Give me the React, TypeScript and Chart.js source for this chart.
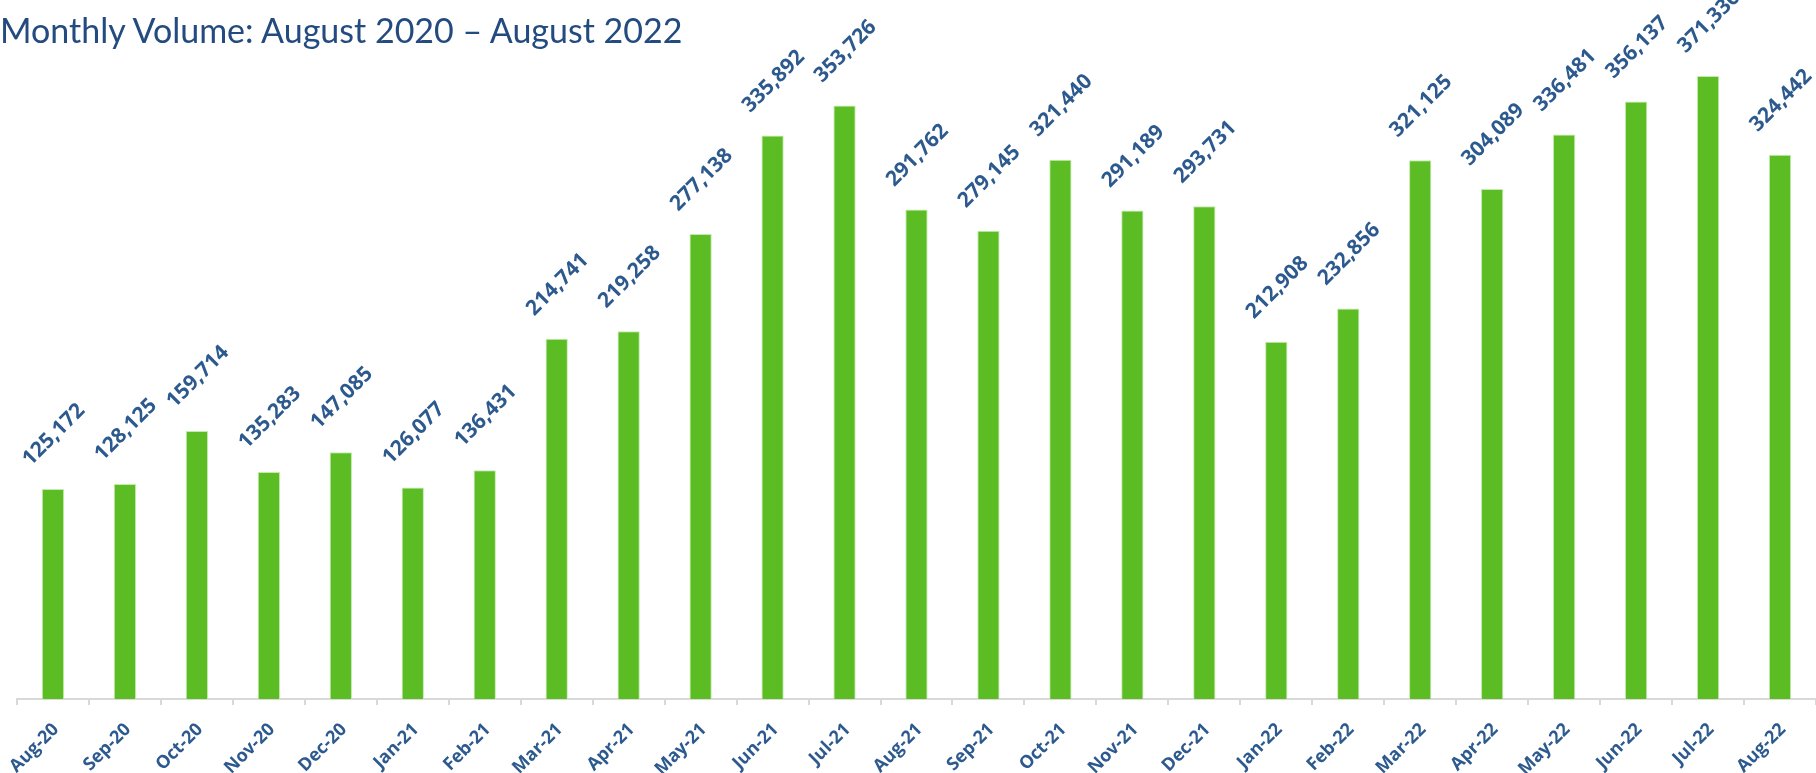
import React, { useEffect, useRef } from "react";
import { Chart, registerables } from "chart.js";

Chart.register(...registerables);

const categories = [
  "Aug-20", "Sep-20", "Oct-20", "Nov-20", "Dec-20", "Jan-21", "Feb-21", "Mar-21",
  "Apr-21", "May-21", "Jun-21", "Jul-21", "Aug-21", "Sep-21", "Oct-21", "Nov-21",
  "Dec-21", "Jan-22", "Feb-22", "Mar-22", "Apr-22", "May-22", "Jun-22", "Jul-22", "Aug-22",
];

const volumes = [
  125172, 128125, 159714, 135283, 147085, 126077, 136431, 214741,
  219258, 277138, 335892, 353726, 291762, 279145, 321440, 291189,
  293731, 212908, 232856, 321125, 304089, 336481, 356137, 371336, 324442,
];

const titleText = "Monthly Volume: August 2020 \u2013 August 2022";

const LABEL_COLOR = "#2D5A8E";
const TITLE_COLOR = "#234B80";
const BAR_COLOR = "#5BBD23";
const TITLE_FONT = "Lato, 'Open Sans', sans-serif";
const LABEL_FONT = "'Open Sans', 'Noto Sans', sans-serif";
const LABEL_SIZE = 21;

const dataLabelPlugin = {
  id: "rotatedDataLabels",
  afterDatasetsDraw(chart: any) {
    const ctx = chart.ctx;
    const meta = chart.getDatasetMeta(0);
    const ds = chart.data.datasets[0];
    ctx.save();
    ctx.font = `700 ${LABEL_SIZE}px ${LABEL_FONT}`;
    ctx.fillStyle = LABEL_COLOR;
    ctx.textAlign = "center";
    ctx.textBaseline = "middle";
    meta.data.forEach((el: any, i: number) => {
      const v = ds.data[i] as number;
      const text = v.toLocaleString("en-US");
      const w = ctx.measureText(text).width;
      const h = LABEL_SIZE * 0.75;
      const half = (w + h) * 0.7071 / 2;
      const cx = el.x + 1;
      const cy = el.y - 21 - half;
      ctx.save();
      ctx.translate(cx, cy);
      ctx.rotate(-Math.PI / 4);
      ctx.fillText(text, 0, 0);
      ctx.restore();
    });
    ctx.restore();
  },
};

export default function App() {
  const canvasRef = useRef<HTMLCanvasElement | null>(null);

  useEffect(() => {
    if (!canvasRef.current) return;
    const chart = new Chart(canvasRef.current, {
      type: "bar",
      data: {
        labels: categories,
        datasets: [
          {
            label: "Monthly Volume",
            data: volumes,
            backgroundColor: BAR_COLOR,
            borderColor: "#C4EAAE",
            borderWidth: 1,
            barPercentage: 0.31,
            categoryPercentage: 1,
          },
        ],
      },
      options: {
        responsive: false,
        animation: false,
        devicePixelRatio: 1,
        layout: { padding: { left: 17, right: 0, top: 28, bottom: 0 } },
        plugins: {
          legend: { display: false },
          title: { display: false },
          tooltip: { enabled: false },
        },
        scales: {
          x: {
            offset: true,
            grid: {
              display: true,
              offset: true,
              drawOnChartArea: false,
              drawTicks: true,
              tickLength: 6,
              color: "#D9D9D9",
              lineWidth: 2,
            },
            border: { display: true, color: "#D9D9D9", width: 2 },
            ticks: {
              minRotation: 45,
              maxRotation: 45,
              autoSkip: false,
              padding: 14,
              labelOffset: 3,
              color: LABEL_COLOR,
              font: { family: LABEL_FONT, size: 18, weight: "700" },
            },
            afterFit: (scale: any) => {
              scale.height = 74;
              scale.paddingLeft = 0;
              scale.paddingRight = 0;
            },
          },
          y: {
            display: false,
            min: 0,
            max: 400000,
          },
        },
      },
      plugins: [dataLabelPlugin],
    });
    return () => chart.destroy();
  }, []);

  return (
    <div style={{ position: "absolute", left: 0, top: 0, width: 1816, height: 773, background: "#fff" }}>
      <canvas
        ref={canvasRef}
        width={1816}
        height={773}
        style={{ position: "absolute", left: 0, top: 0, width: 1816, height: 773 }}
      />
      <div
        style={{
          position: "absolute",
          left: 0,
          top: 10,
          fontFamily: TITLE_FONT,
          fontSize: 34,
          lineHeight: "40px",
          color: TITLE_COLOR,
          whiteSpace: "nowrap",
        }}
      >
        {titleText}
      </div>
    </div>
  );
}
